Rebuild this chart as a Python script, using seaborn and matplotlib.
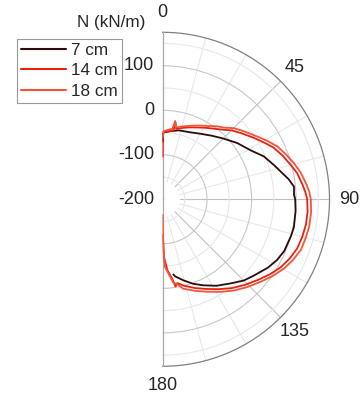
import numpy as np
import pandas as pd
import matplotlib
matplotlib.use('Agg')
import matplotlib.pyplot as plt
import seaborn as sns
from matplotlib.lines import Line2D

sns.set_style('white')
plt.rcParams['font.family'] = ['Liberation Sans', 'DejaVu Sans']

series = ['7 cm', '14 cm', '18 cm']
colors = ['#2b0b0b', '#e8210f', '#f4543a']
theta_ticks = [0, 45, 90, 135, 180]
r_ticks = [-200, -100, 0, 100]
r_minor = [-150, -50, 50, 150]
r_min, r_max = -200, 175

theta_7 = [0.3, 0.7, 6, 13, 22, 30, 38, 45, 53, 61, 67, 73, 81, 84.5, 88, 90, 95, 102,
           106, 113, 118, 123, 130, 135, 141, 148, 154.5, 160, 165.5, 170.7, 171.8]
r_7 = [-70, -50, -46.5, -41, -37.5, -30, -19, -7, 10, 26.6, 47, 62, 87, 96.6, 95.5, 98,
       100, 101.6, 100, 97, 91, 82, 67, 58, 43, 29, 14, 2, -12, -24.6, -29.6]

theta_14 = [0.3, 0.3, 4, 9, 9.6, 11, 16, 21, 27, 32, 37, 41, 45, 50, 56, 61, 65, 70, 75,
            79, 84, 87, 90, 95, 100, 105, 110, 115, 120, 125, 130, 136, 142, 148, 154,
            160, 166, 170, 171.5, 173, 176, 178.5, 179.5]
r_14 = [-104, -50, -47, -44, -25, -39, -33, -27, -19, -11, -2, 7, 19, 31, 47, 62, 75, 87,
        98, 108, 116, 121, 125, 127, 127, 125, 122, 115, 106, 94, 81, 67, 53, 38, 24, 12,
        0, -9, -2, -20, -40, -70, -120]

theta_18 = [0.4, 0.4, 4, 8, 9.2, 10.5, 16, 21, 27, 32, 36.7, 41, 45, 50, 56.4, 61, 65.3,
            70, 74.6, 79, 83.6, 87, 90, 95, 100.6, 105, 110, 115, 119.7, 125, 130, 136,
            142, 148, 154, 160, 167, 170.4, 172.5, 175, 177.9, 179, 179.6]
r_18 = [-60, -48, -44, -40, -22, -36, -29.5, -23, -14, -6, 4.5, 13, 26, 38, 55, 70, 84,
        95, 106, 116, 124, 130, 133, 135, 135, 133, 131, 123, 114, 101, 88, 74, 60, 45,
        31, 19, 6, -7.7, -10, -30, -48, -85, -165]

frames = []
for name, th, rr in [(series[0], theta_7, r_7), (series[1], theta_14, r_14),
                     (series[2], theta_18, r_18)]:
    frames.append(pd.DataFrame({'theta': np.deg2rad(th), 'N': rr, 'depth': name,
                                'order': np.arange(len(th))}))
df = pd.concat(frames, ignore_index=True)

W, H = 363, 399
fig = plt.figure(figsize=(W / 100, H / 100), dpi=100)
cx, cy, R = 162.5, 199.3, 167
ax = fig.add_axes([(cx - R / 2) / W, (H - cy - R) / H, 2 * R / W, 2 * R / H],
                  projection='polar')
ax.set_theta_zero_location('N')
ax.set_theta_direction(-1)
ax.set_thetamin(0)
ax.set_thetamax(180)
ax.set_rlim(r_min, r_max)
ax.set_facecolor('white')

# radial grid
ax.set_yticks(r_ticks)
ax.set_yticklabels([str(v) for v in r_ticks], fontsize=13)
ax.set_yticks(r_minor, minor=True)
ax.yaxis.grid(True, which='major', color='#c8c8c8', lw=0.8)
ax.yaxis.grid(True, which='minor', color='#e8e8e8', lw=0.8)
ax.tick_params(axis='y', which='major', direction='out', length=4, color='#a0a0a0',
               pad=2, labelsize=13)
ax.tick_params(axis='y', which='minor', direction='out', length=2.5, color='#a0a0a0')

# theta grid drawn from a small inner radius
ax.set_xticks(np.deg2rad(theta_ticks))
ax.set_xticklabels([str(v) for v in theta_ticks], fontsize=13)
ax.set_xticks(np.deg2rad(np.arange(15, 180, 15)), minor=True)
ax.xaxis.grid(False, which='both')
ax.tick_params(axis='x', which='major', length=0, pad=7)
ax.tick_params(axis='x', which='minor', direction='in', length=3, color='#808080')
for t in range(15, 180, 15):
    major = t % 45 == 0
    ax.plot([np.deg2rad(t)] * 2, [-160, r_max], color='#c0c0c0' if major else '#e8e8e8',
            lw=0.8, zorder=0.5)

ax.spines['polar'].set_color('#808080')
ax.spines['polar'].set_linewidth(0.9)
for s in ['start', 'end']:
    ax.spines[s].set_color('#a8a8a8')
    ax.spines[s].set_linewidth(0.9)

for name, col in zip(series, colors):
    sub = df[df['depth'] == name]
    sns.lineplot(data=sub, x='theta', y='N', ax=ax, color=col, lw=1.3, sort=False,
                 estimator=None, legend=False, zorder=3)
ax.set_xlabel('')
ax.set_ylabel('')
ax.set_rlim(r_min, r_max)

handles = [Line2D([0], [0], color=c, lw=1.5) for c in colors]
leg = fig.legend(handles, series, loc='upper left', bbox_to_anchor=(17 / W, 1 - 39 / H),
                 frameon=True, fancybox=False, edgecolor='#808080', fontsize=12.3,
                 handlelength=2.6, borderpad=0.25, labelspacing=0.3, handletextpad=0.3,
                 borderaxespad=0)
leg.get_frame().set_linewidth(0.8)

fig.text(111 / W, 1 - 22 / H, 'N (kN/m)', ha='center', va='center', fontsize=12.3)

fig.savefig('out.png', dpi=100, facecolor='white')
